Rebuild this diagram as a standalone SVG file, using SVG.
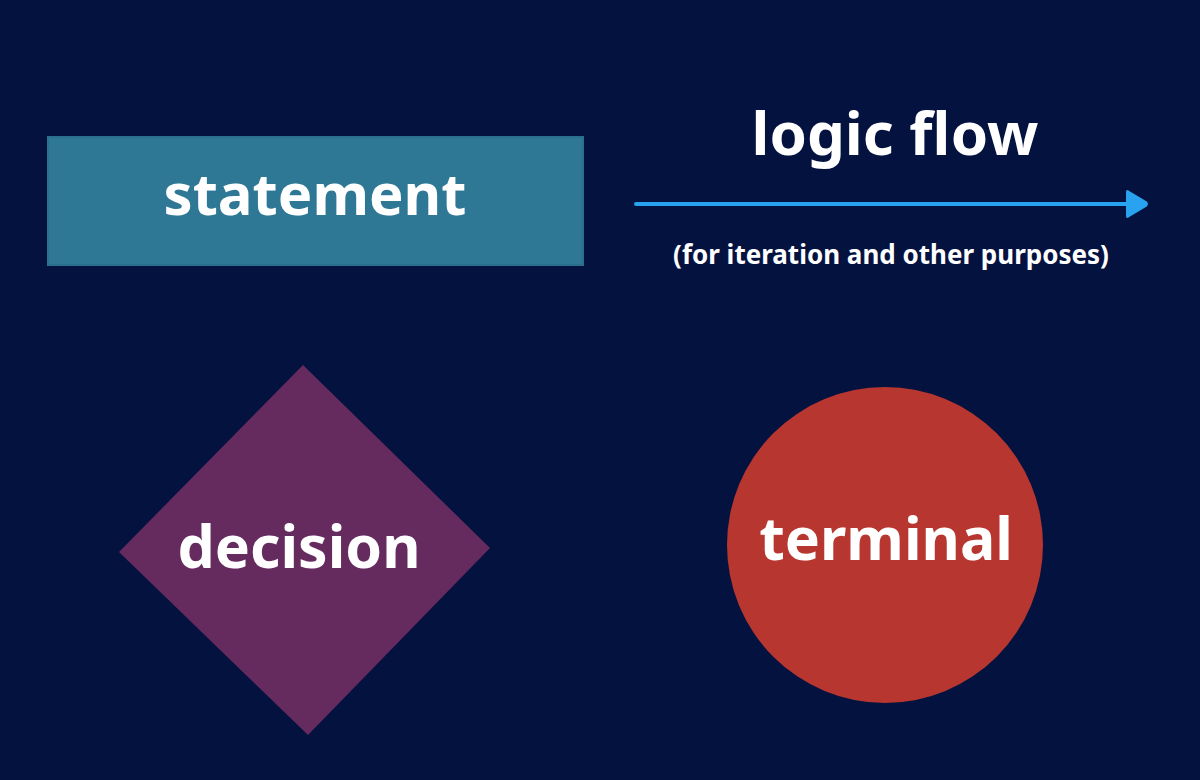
<svg xmlns="http://www.w3.org/2000/svg" width="1200" height="780" viewBox="0 0 1200 780">
  <defs>
    <style>
      .lbl { font-family: "Noto Sans", "Open Sans", "DejaVu Sans", sans-serif; font-weight: 700; fill: #ffffff; text-anchor: middle; }
      .big { font-size: 59px; }
      .stm { font-size: 58px; }
      .flow { font-size: 60px; }
      .small { font-size: 26px; }
    </style>
    <marker id="arrowhead" markerWidth="6" markerHeight="8" refX="1" refY="4" orient="auto" markerUnits="strokeWidth">
      <path d="M0.6,0.6 L5.2,3.4 Q5.8,4 5.2,4.6 L0.6,7.4 Q0,7.7 0,7 L0,1 Q0,0.3 0.6,0.6 Z" fill="#29a3ef"/>
    </marker>
  </defs>
  <rect x="0" y="0" width="1200" height="780" fill="#04123f"/>

  <g id="statement">
    <rect x="48" y="137" width="535" height="128" fill="#2e7896" stroke="#2b6f8e" stroke-width="2"/>
    <text class="lbl stm" x="315" y="215">statement</text>
  </g>

  <g id="decision">
    <polygon points="303,365 490,548 308,735 119,552" fill="#652a5e"/>
    <text class="lbl big" x="299" y="568">decision</text>
  </g>

  <g id="terminal">
    <circle cx="885" cy="545" r="158" fill="#b83630"/>
    <text class="lbl big" x="886" y="560">terminal</text>
  </g>

  <g id="connectors">
    <line x1="636" y1="204" x2="1130" y2="204" stroke="#29a3ef" stroke-width="4" stroke-linecap="round" marker-end="url(#arrowhead)"/>
  </g>

  <g id="legend-labels">
    <text class="lbl flow" x="895" y="155">logic flow</text>
    <text class="lbl small" x="891" y="264">(for iteration and other purposes)</text>
  </g>
</svg>
